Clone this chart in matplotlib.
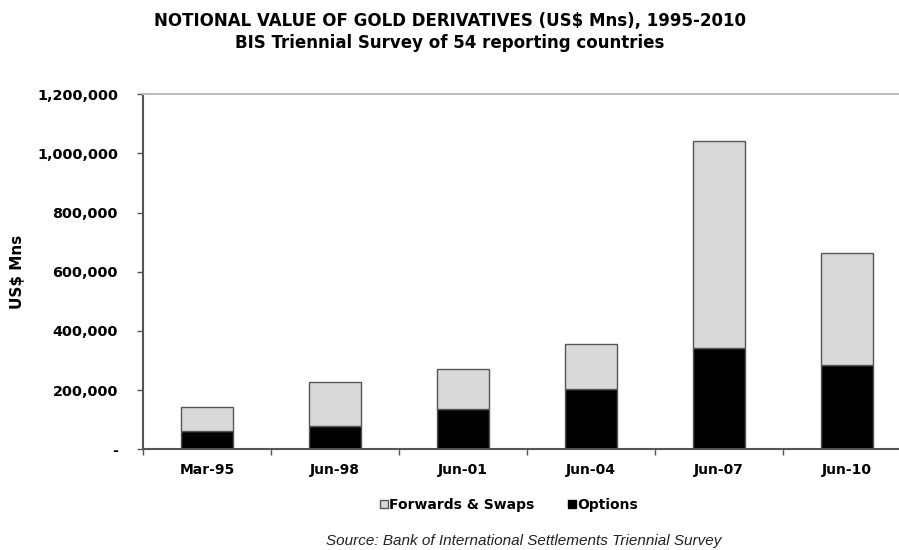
import numpy as np
import matplotlib.pyplot as plt
from matplotlib.lines import Line2D
from matplotlib.ticker import FuncFormatter

# survey dates and values (US$ Mns)
periods = ['Mar-95', 'Jun-98', 'Jun-01', 'Jun-04', 'Jun-07', 'Jun-10']
options = [62900, 79800, 135200, 202800, 341400, 285000]
forwards_swaps = [81100, 147700, 136300, 153200, 701900, 378600]
yticks = [0, 200000, 400000, 600000, 800000, 1000000, 1200000]

LIGHT = '#d9d9d9'
EDGE = '#555555'

fig = plt.figure(figsize=(8.99, 5.5), dpi=100)
ax = fig.add_axes([0.1591, 0.1831, 0.8543, 0.6455])

x = np.arange(len(periods))
ax.bar(x, options, width=0.4, color='black', edgecolor=EDGE, linewidth=1.0, zorder=2)
ax.bar(x, forwards_swaps, width=0.4, bottom=options, color=LIGHT,
       edgecolor=EDGE, linewidth=1.0, zorder=2)

ax.set_xlim(-0.5, len(periods) - 0.5)
ax.set_ylim(0, 1200000)

# y axis
ax.set_yticks(yticks)
ax.yaxis.set_major_formatter(FuncFormatter(lambda v, p: '-' if v == 0 else f'{int(v):,}'))
ax.tick_params(axis='y', direction='out', length=4, width=1, color=EDGE,
               labelsize=10.4, pad=14)
for lab in ax.get_yticklabels():
    lab.set_fontweight('bold')
ax.set_ylabel('US$ Mns', fontsize=11, fontweight='bold')
ax.yaxis.set_label_coords(-0.1536, 0.5)

# x axis: labels at bar centres, tick marks between categories
ax.set_xticks(x)
ax.set_xticklabels(periods, fontsize=10, fontweight='bold')
ax.set_xticks(np.arange(-0.5, len(periods), 1.0), minor=True)
ax.tick_params(axis='x', which='major', length=0, pad=10)
ax.tick_params(axis='x', which='minor', direction='out', length=4, width=1, color=EDGE)

for side in ['left', 'bottom']:
    ax.spines[side].set_color(EDGE)
    ax.spines[side].set_linewidth(1.5)
ax.spines['right'].set_visible(False)
ax.spines['top'].set_color('#bdbdbd')
ax.spines['top'].set_linewidth(1.5)

fig.text(0.5, 0.962, 'NOTIONAL VALUE OF GOLD DERIVATIVES (US$ Mns), 1995-2010',
         ha='center', va='center', fontsize=12, fontweight='bold')
fig.text(0.5, 0.921, 'BIS Triennial Survey of 54 reporting countries',
         ha='center', va='center', fontsize=12, fontweight='bold')

handles = [
    Line2D([], [], linestyle='none', marker='s', markersize=6,
           markerfacecolor=LIGHT, markeredgecolor=EDGE, markeredgewidth=1),
    Line2D([], [], linestyle='none', marker='s', markersize=6,
           markerfacecolor='black', markeredgecolor='black'),
]
fig.legend(handles, ['Forwards & Swaps', 'Options'], loc='center',
           bbox_to_anchor=(0.566, 0.082), ncol=2, frameon=False,
           handlelength=0.6, handletextpad=0.1, columnspacing=2.4,
           prop={'size': 10, 'weight': 'bold'})

fig.text(0.583, 0.0164, 'Source: Bank of International Settlements Triennial Survey',
         ha='center', va='center', fontsize=11, style='italic',
         family='Liberation Sans', color='#222222')

fig.savefig('out.png', dpi=100)
